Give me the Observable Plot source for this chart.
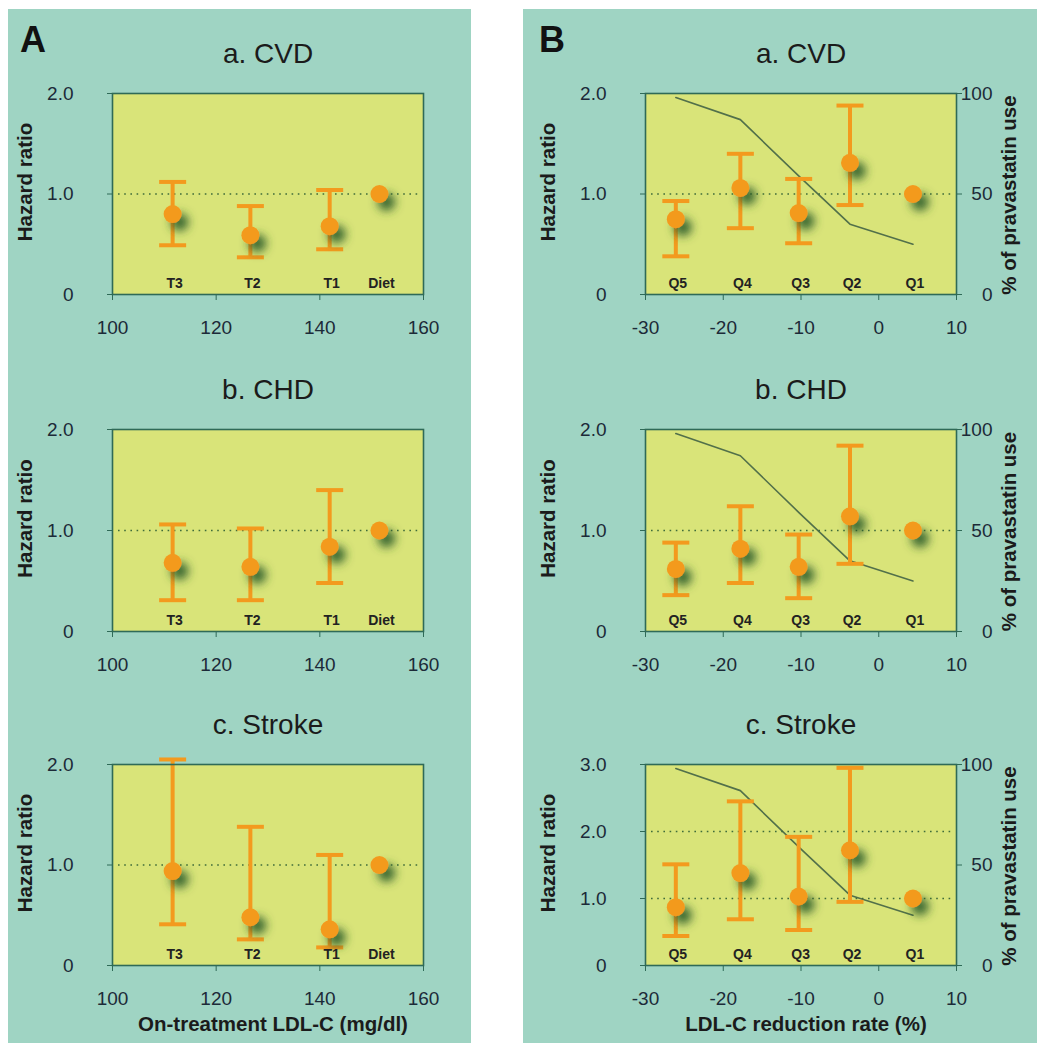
<!DOCTYPE html>
<html>
<head>
<meta charset="utf-8">
<script src="https://cdn.jsdelivr.net/npm/d3@7"></script>
<script src="https://cdn.jsdelivr.net/npm/@observablehq/plot@0.6"></script>
<style>
  body { margin: 0; background: #ffffff; font-family: "Liberation Sans", Arial, Helvetica, sans-serif; }
  #page { position: relative; width: 1037px; height: 1043px; overflow: hidden; background: #ffffff; }
  .panel { position: absolute; background: #9fd4c3; }
  .letter { position: absolute; font-weight: bold; font-size: 36px; line-height: 1; color: #111111; }
  .layer { position: absolute; }
  .layer svg { display: block; }
</style>
</head>
<body>
<div id="page">
  <div class="panel" style="left:8px; top:9px; width:463px; height:1034px;"></div>
  <div class="panel" style="left:523px; top:9px; width:514px; height:1034px;"></div>
  <div class="letter" style="left:20px; top:22px;">A</div>
  <div class="letter" style="left:539px; top:22px;">B</div>
</div>
<script>
// ---- Panel A: on-treatment LDL-C groups (tertiles of pravastatin users vs. diet alone)
const ldlGroups = ["T3", "T2", "T1", "Diet"];
const ldlLevels = [111.6, 126.6, 141.9, 151.5];          // mg/dl
const ldlTicks = [100, 120, 140, 160];

const cvdHrA = [0.80, 0.59, 0.68, 1.00];
const cvdLoA = [0.49, 0.37, 0.45, null];
const cvdHiA = [1.12, 0.88, 1.04, null];

const chdHrA = [0.68, 0.64, 0.84, 1.00];
const chdLoA = [0.31, 0.31, 0.48, null];
const chdHiA = [1.06, 1.02, 1.40, null];

const strokeHrA = [0.94, 0.48, 0.36, 1.00];
const strokeLoA = [0.41, 0.26, 0.18, null];
const strokeHiA = [2.05, 1.38, 1.10, null];

// ---- Panel B: quintiles of LDL-C reduction rate
const reductionGroups = ["Q5", "Q4", "Q3", "Q2", "Q1"];
const reductionRates = [-26.1, -17.8, -10.3, -3.7, 4.4]; // %
const reductionTicks = [-30, -20, -10, 0, 10];
const pravastatinUse = [98, 87, 59, 35, 25];             // % of pravastatin use

const cvdHrB = [0.75, 1.06, 0.81, 1.31, 1.00];
const cvdLoB = [0.38, 0.66, 0.51, 0.89, null];
const cvdHiB = [0.93, 1.40, 1.15, 1.88, null];

const chdHrB = [0.62, 0.82, 0.64, 1.14, 1.00];
const chdLoB = [0.36, 0.48, 0.33, 0.67, null];
const chdHiB = [0.88, 1.24, 0.96, 1.84, null];

const strokeHrB = [0.87, 1.38, 1.03, 1.72, 1.00];
const strokeLoB = [0.44, 0.69, 0.53, 0.95, null];
const strokeHiB = [1.51, 2.45, 1.92, 2.95, null];

// ---- Styling
const FONT = "'Liberation Sans', Arial, Helvetica, sans-serif";
const PLOT_FILL = "#d9e479";
const FRAME = "#2f6a57";
const ORANGE = "#f39a1e";
const DOTTED = "#3f6b3a";
const USE_LINE = "#52704a";
const TICK_TEXT = "#1c2a38";
const TITLE_TEXT = "#1b1b1b";
const M_TOP = 70, M_BOTTOM = 82;

// horizontal whisker cap of fixed pixel width
const capSymbol = { draw(ctx) { ctx.moveTo(-13.5, 0); ctx.lineTo(13.5, 0); } };

const page = document.getElementById("page");
let shadowCount = 0;

function place(svg, left, top) {
  const div = document.createElement("div");
  div.className = "layer";
  div.style.left = left + "px";
  div.style.top = top + "px";
  div.appendChild(svg);
  page.appendChild(div);
}

function addShadow(svg) {
  const id = "pt-shadow-" + (shadowCount++);
  const ns = "http://www.w3.org/2000/svg";
  const defs = document.createElementNS(ns, "defs");
  const filter = document.createElementNS(ns, "filter");
  filter.setAttribute("id", id);
  filter.setAttribute("x", "-100%"); filter.setAttribute("y", "-100%");
  filter.setAttribute("width", "300%"); filter.setAttribute("height", "300%");
  const ds = document.createElementNS(ns, "feDropShadow");
  ds.setAttribute("dx", "7"); ds.setAttribute("dy", "8");
  ds.setAttribute("stdDeviation", "5");
  ds.setAttribute("flood-color", "#2a5a28");
  ds.setAttribute("flood-opacity", "0.9");
  filter.appendChild(ds); defs.appendChild(filter);
  svg.insertBefore(defs, svg.firstChild);
  let g = svg.querySelector('g[aria-description="hazard ratio"]');
  if (!g) { const all = svg.querySelectorAll('g[aria-label="dot"]'); g = all[all.length - 1]; }
  if (g) g.setAttribute("filter", `url(#${id})`);
}

function hazardPanel(cfg) {
  const { left, width, mLeft, mRight, frameTop, frameBottom, title, xDomain, xTicks, xLabel,
          yMax, groups, xs, hr, lo, hi, yTitleDx, usage } = cfg;
  const height = M_TOP + (frameBottom - frameTop) + M_BOTTOM;
  const rows = groups.map((g, i) => ({ g, x: xs[i], hr: hr[i], lo: lo[i], hi: hi[i] }));
  const bars = rows.filter(d => d.lo != null);
  const common = {
    width, height, marginLeft: mLeft, marginRight: mRight, marginTop: M_TOP, marginBottom: M_BOTTOM,
    style: `background: transparent; overflow: visible; font-family: ${FONT};`
  };

  // back layer: plotting area and, for panel B, the pravastatin-use line on its own 0–100 scale
  if (usage) {
    const useRows = groups.map((g, i) => ({ x: xs[i], pct: usage[i] }));
    const back = Plot.plot({
      ...common,
      x: { domain: xDomain, axis: null },
      y: { domain: [0, 100] },
      marks: [
        Plot.frame({ fill: PLOT_FILL }),
        Plot.line(useRows, { x: "x", y: "pct", stroke: USE_LINE, strokeWidth: 1.6 }),
        Plot.axisY([0, 50, 100], {
          anchor: "right", tickSize: 5, tickPadding: 31, textAnchor: "end",
          fontSize: 19, stroke: FRAME, fill: TICK_TEXT, label: null
        }),
        Plot.text(["% of pravastatin use"], {
          text: d => d, frameAnchor: "right", dx: 53, dy: 1, rotate: -90,
          textAnchor: "middle", lineAnchor: "middle",
          fontSize: 20.5, fontWeight: "bold", fill: TITLE_TEXT
        })
      ]
    });
    place(back, left, frameTop - M_TOP);
  }

  const marks = [];
  if (!usage) marks.push(Plot.frame({ fill: PLOT_FILL }));
  marks.push(
    Plot.ruleY(d3.range(1, yMax), {
      stroke: DOTTED, strokeWidth: 1.7, strokeDasharray: "1.6,4.6", insetLeft: 6, insetRight: 3
    }),
    Plot.ruleX(bars, { x: "x", y1: "lo", y2: "hi", stroke: ORANGE, strokeWidth: 4 }),
    Plot.dot(bars, { x: "x", y: "lo", symbol: capSymbol, r: 3, fill: "none", stroke: ORANGE, strokeWidth: 4 }),
    Plot.dot(bars, { x: "x", y: "hi", symbol: capSymbol, r: 3, fill: "none", stroke: ORANGE, strokeWidth: 4 }),
    Plot.dot(rows, { x: "x", y: "hr", r: 9, fill: ORANGE, ariaDescription: "hazard ratio" }),
    Plot.text(rows, {
      x: "x", text: "g", frameAnchor: "bottom", dx: 2, dy: -7, lineAnchor: "bottom",
      fontSize: 14, fontWeight: "bold", fill: "#222222"
    }),
    Plot.axisY(d3.range(0, yMax + 1), {
      tickSize: 5, tickPadding: 34, fontSize: 19, stroke: FRAME, fill: TICK_TEXT, label: null,
      tickFormat: d => d === 0 ? "0" : d.toFixed(1)
    }),
    Plot.axisX(xTicks, {
      tickSize: 6, tickPadding: 19.5, fontSize: 19, stroke: FRAME, fill: TICK_TEXT, label: null,
      tickFormat: d => String(d)
    }),
    Plot.frame({ stroke: FRAME, strokeWidth: 1.6 }),
    Plot.text([title], {
      text: d => d, frameAnchor: "top", dy: -31, lineAnchor: "bottom", fontSize: 28, fill: TITLE_TEXT
    }),
    Plot.text(["Hazard ratio"], {
      text: d => d, frameAnchor: "left", dx: yTitleDx, dy: -12, rotate: -90,
      textAnchor: "middle", lineAnchor: "middle",
      fontSize: 20.5, fontWeight: "bold", fill: TITLE_TEXT
    })
  );
  if (xLabel) {
    marks.push(Plot.text([xLabel], {
      text: d => d, frameAnchor: "bottom", dx: 5, dy: 65.5, lineAnchor: "bottom",
      fontSize: 20.5, fontWeight: "bold", fill: TITLE_TEXT
    }));
  }
  const front = Plot.plot({
    ...common,
    x: { domain: xDomain },
    y: { domain: [0, yMax] },
    marks
  });
  addShadow(front);
  place(front, left, frameTop - M_TOP);
}

const rowsLayout = [
  { frameTop: 93, frameBottom: 294 },
  { frameTop: 429, frameBottom: 631 },
  { frameTop: 764, frameBottom: 965 }
];

const panelA = { left: 8, width: 463, mLeft: 104, mRight: 48, xDomain: [100, 160], xTicks: ldlTicks,
                 groups: ldlGroups, xs: ldlLevels, yTitleDx: -87 };
const panelB = { left: 523, width: 514, mLeft: 122, mRight: 81, xDomain: [-30, 10], xTicks: reductionTicks,
                 groups: reductionGroups, xs: reductionRates, yTitleDx: -97, usage: pravastatinUse };

hazardPanel({ ...panelA, ...rowsLayout[0], title: "a. CVD", yMax: 2, hr: cvdHrA, lo: cvdLoA, hi: cvdHiA });
hazardPanel({ ...panelA, ...rowsLayout[1], title: "b. CHD", yMax: 2, hr: chdHrA, lo: chdLoA, hi: chdHiA });
hazardPanel({ ...panelA, ...rowsLayout[2], title: "c. Stroke", yMax: 2, hr: strokeHrA, lo: strokeLoA, hi: strokeHiA,
              xLabel: "On-treatment LDL-C (mg/dl)" });

hazardPanel({ ...panelB, ...rowsLayout[0], title: "a. CVD", yMax: 2, hr: cvdHrB, lo: cvdLoB, hi: cvdHiB });
hazardPanel({ ...panelB, ...rowsLayout[1], title: "b. CHD", yMax: 2, hr: chdHrB, lo: chdLoB, hi: chdHiB });
hazardPanel({ ...panelB, ...rowsLayout[2], title: "c. Stroke", yMax: 3, hr: strokeHrB, lo: strokeLoB, hi: strokeHiB,
              xLabel: "LDL-C reduction rate (%)" });
</script>
</body>
</html>
